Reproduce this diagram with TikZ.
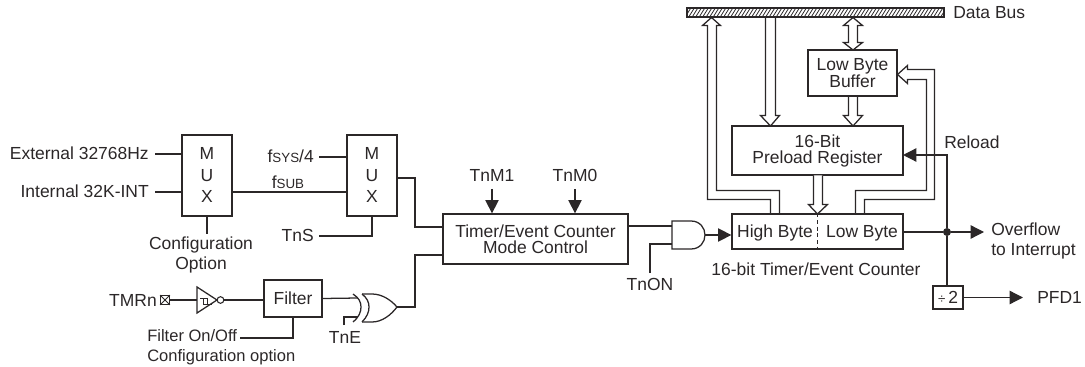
\documentclass[tikz,border=0pt]{standalone}
\usepackage{fontspec}
\setmainfont{Liberation Sans}
\usetikzlibrary{arrows.meta}
\definecolor{ink}{HTML}{2B2728}
\newcommand{\lab}{\fontsize{13.1}{15}\selectfont}
\newcommand{\labs}{\fontsize{12.4}{15}\selectfont}
\newcommand{\labt}{\fontsize{13.1}{12}\selectfont}
\newcommand{\sm}[1]{{\fontsize{10}{10}\selectfont #1}}
\tikzset{
  line/.style={draw=ink,line width=0.95pt,line join=miter},
  dbl/.style={draw=ink,line width=0.95pt,line join=miter},
  solid arrow/.style={line,-{Triangle[length=10pt,width=10pt,fill=ink]}},
  blk/.style 2 args={draw=ink,line width=0.95pt,fill=white,inner sep=0pt,align=center,font=\labt,text=ink,
     minimum width=#1*0.75pt,minimum height=#2*0.75pt},
  txt/.style={inner sep=0pt,font=\lab,text=ink},
  txtc/.style={txt,anchor=base},
  txtl/.style={txt,anchor=base west},
  txtr/.style={txt,anchor=base east},
}
\begin{document}
\begin{tikzpicture}[x=0.75pt,y=-0.75pt]
\useasboundingbox (0,0) rectangle (1085,367);
% blocks
\node[blk={50}{81}] (mux1) at (207,175.5) {};
\node[blk={50}{81}] (mux2) at (372,175.5) {};
\foreach \n/\x in {m1/207,m2/372}{
  \node[txtc] (\n m) at (\x,160) {M};
  \node[txtc] (\n u) at (\x,182) {U};
  \node[txtc] (\n x) at (\x,203) {X};
}
\node[blk={185}{50}] (mode) at (535.5,239) {Timer/Event Counter\\Mode Control};
\node[blk={58}{37}] (filter) at (293,298.5) {Filter};
\node[blk={171}{49}] (preload) at (817.5,150.5) {16-Bit\\Preload Register};
\node[blk={89}{46}] (buffer) at (852.5,73) {Low Byte\\Buffer};
\node[blk={171}{35}] (counter) at (817.5,231.5) {};
\node[txtc] (high) at (775,238) {High Byte};
\node[txtc] (low) at (862,238) {Low Byte};
\node[blk={30}{23}] (div) at (948,297.5) {\sm{÷}\,2};
\node[blk={9}{9},line width=0.6pt] (tmrpin) at (165,300) {};
\draw[line,line width=0.6pt] (tmrpin.north west) -- (tmrpin.south east) (tmrpin.north east) -- (tmrpin.south west);
\draw[line,densely dashed] (counter.north) -- (counter.south);
% data bus
\node[draw=ink,line width=0.95pt,inner sep=0pt,minimum width=257*0.75pt,minimum height=9*0.75pt,
  path picture={\foreach \i in {0,3.5,...,270}{\draw[ink,line width=0.6pt] (-136+\i,8) -- (-126+\i,-8);}}] (bus) at (815.5,12.5) {};
% labels
\node[txtr] (ext) at (149,160) {External 32768Hz};
\node[txtr] (int) at (149,198) {Internal 32K-INT};
\node[txtr] (fsys) at (314,163) {f\sm{SYS}/4};
\node[txtc] (fsub) at (288,189) {f\sm{SUB}};
\node[txtr] (tns) at (314,241) {TnS};
\node[txt,align=center] (cfg) at (201,254.5) {Configuration\\Option};
\node[txtr] (tmr) at (157,306) {TMRn};
\node[txt,font=\labs,align=left,anchor=west] (fonoff) at (147,347.5) {Filter On/Off\\Configuration option};
\node[txtc] (tne) at (345,343) {TnE};
\node[txtc] (tnm1) at (492,181) {TnM1};
\node[txtc] (tnm0) at (575,181) {TnM0};
\node[txtc] (tnon) at (650,290) {TnON};
\node[txtc] (cap) at (816,275) {16-bit Timer/Event Counter};
\node[txtl] (dbus) at (953,19) {Data Bus};
\node[txtl] (reload) at (944,149) {Reload};
\node[txt,align=left,anchor=west] (ovf) at (991,241) {Overflow\\to Interrupt};
\node[txtl] (pfd) at (1037,303) {PFD1};
% free ends
\coordinate (extp) at (155,154);
\coordinate (intp) at (155,192);
\coordinate (fsysp) at (319,157);
\coordinate (tnsp) at (319,236);
\coordinate (fonp) at (240,338);
\coordinate (tm1p) at (492,189);
\coordinate (tm0p) at (575,189);
\coordinate (tonp) at (650,273);
\coordinate (reloadp) at (903,155);
% MUX wiring
\draw[line] (extp) -- (extp -| mux1.west);
\draw[line] (intp) -- (intp -| mux1.west);
\draw[line] (fsysp) -- (fsysp -| mux2.west);
\draw[line] (mux1.east |- intp) -- (mux2.west |- intp);
\draw[line] (mux1.south) -- (207,234);
\draw[line] (tnsp) -| (mux2.south);
\draw[line] (397,178) -| (415,227) -- (443,227);
% inverter and filter
\coordinate (invl) at (197,300);
\coordinate (invt) at (217,300);
\node[draw=ink,line width=0.8pt,circle,inner sep=0pt,minimum size=5pt] (bub) at (220.5,300) {};
\draw[line] (tmrpin.east) -- (invl);
\draw[line] (197,287) -- (invt) -- (197,313) -- cycle;
\draw[line,line width=0.6pt] (200,298) -- (207,298) -- (207,304) -- (212,304) (203,298) -- (203,304) -- (207,304);
\draw[line] (bub.east) -- (bub.east -| filter.west);
\draw[line] (filter.south) |- (fonp);
% XOR
\coordinate (xorout) at (397,307);
\draw[line] (filter.east) -- (358,298);
\draw[line] (344,325) -- (344,317) -- (358,317);
\draw[line] (353,294) .. controls (359,298) and (361,302) .. (361,307) .. controls (361,312) and (359,317) .. (353,322);
\draw[line] (362,294) .. controls (367,298) and (369,302) .. (369,307) .. controls (369,312) and (367,317) .. (362,322);
\draw[line] (362,294) -- (372,294) .. controls (382,294) and (391,300) .. (xorout) .. controls (391,315) and (382,322) .. (372,322) -- (362,322);
\draw[line] (xorout) -- (415,307) -- (415,255) -- (443,255);
% mode inputs
\draw[solid arrow] (tm1p) -- (tm1p |- mode.north);
\draw[solid arrow] (tm0p) -- (tm0p |- mode.north);
% AND
\coordinate (andout) at (705,235);
\draw[line] (691,221) -- (672,221) -- (672,249) -- (691,249) .. controls (700,249) and (705,242) .. (andout) .. controls (705,228) and (700,221) .. (691,221);
\draw[line] (mode.east |- 0,226) -- (672,226);
\draw[line] (tonp) |- (672,244);
\draw[solid arrow] (andout) -- (andout -| counter.west);
% wide arrows
\begin{scope}[shift={(0.5,0.5)}]
\draw[dbl] (770,213.5) -- (770,199) -- (707,199) -- (707,25) -- (702,25) -- (711,17) -- (720,25) -- (716,25) -- (716,190) -- (779,190) -- (779,213.5);
\draw[dbl] (765,17) -- (765,115) -- (760,115) -- (770,125.5) -- (779,115) -- (775,115) -- (775,17);
\draw[dbl] (848,25) -- (843,25) -- (852.5,17) -- (862,25) -- (857,25) -- (857,42) -- (862,42) -- (852.5,49.5) -- (843,42) -- (848,42) -- cycle;
\draw[dbl] (848,96) -- (848,115) -- (843,115) -- (852.5,125.5) -- (862,115) -- (857,115) -- (857,96);
\draw[dbl,fill=white] (813,175) -- (813,204) -- (808,204) -- (817,213.5) -- (827,204) -- (822,204) -- (822,175);
\draw[dbl] (855,213.5) -- (855,190) -- (926,190) -- (926,79) -- (907,79) -- (907,83) -- (897,74) -- (907,65) -- (907,69) -- (934,69) -- (934,199) -- (864,199) -- (864,213.5);
\end{scope}
% output
\node[circle,fill=ink,inner sep=0pt,minimum size=6pt] (dot) at (947,232) {};
\coordinate (ovfend) at (984,232);
\coordinate (pfdend) at (1023,297.5);
\draw[line] (counter.east |- dot) -- (dot);
\draw[solid arrow] (dot) -- (ovfend);
\draw[line] (dot) -- (div.north -| dot);
\draw[solid arrow] (dot) |- (reloadp);
\draw[solid arrow] (div.east) -- (pfdend);
\end{tikzpicture}
\end{document}
